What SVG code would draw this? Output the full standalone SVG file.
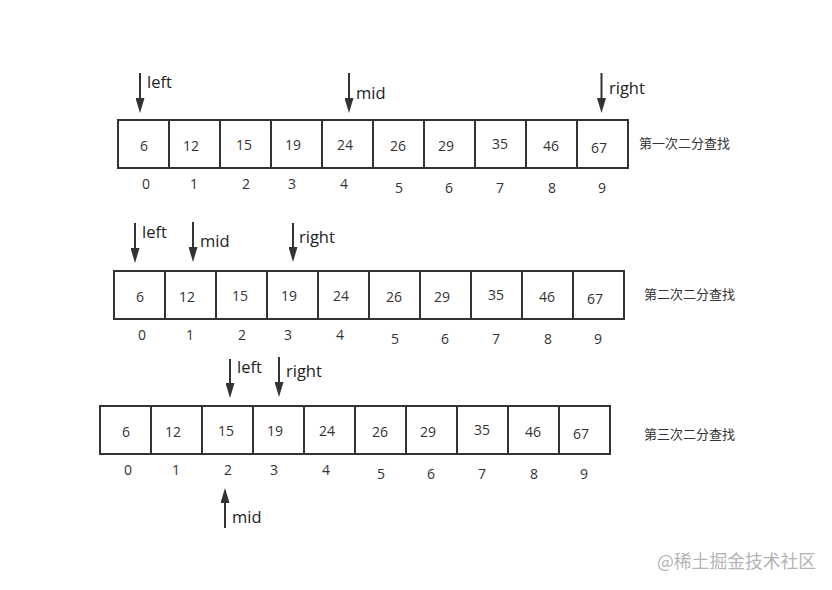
<svg xmlns="http://www.w3.org/2000/svg" width="832" height="590" viewBox="0 0 832 590">
<style>
.cell rect{fill:#fff;stroke:#333;stroke-width:2}
.cell text,.idx{font-family:"Open Sans","Noto Sans",sans-serif;font-size:14px;fill:#333;text-anchor:middle}
.lbl{font-family:"Open Sans","Noto Sans",sans-serif;font-size:16.5px;fill:#222}
.cap{font-family:"Noto Sans CJK SC","Noto Sans",sans-serif;font-size:13px;fill:#333}
.arr{stroke:#333;stroke-width:2;fill:none;marker-end:url(#ah)}
.wm{font-family:"Noto Sans CJK SC","Noto Sans",sans-serif;font-size:17.8px;fill:#b4b4b4}
</style>
<defs>
<marker id="ah" viewBox="0 0 15 9" refX="5" refY="4.5" markerWidth="15" markerHeight="9" markerUnits="userSpaceOnUse" orient="auto">
<path d="M0,0 L15,4.5 L0,9 Z" fill="#333"/>
</marker>
</defs>
<rect width="832" height="590" fill="#fff"/>

<g id="row1">
<g id="r1c0" class="cell"><rect x="118" y="120" width="51" height="48"/><text x="144" y="151">6</text></g>
<g id="r1c1" class="cell"><rect x="169" y="120" width="51" height="48"/><text x="191" y="151">12</text></g>
<g id="r1c2" class="cell"><rect x="220" y="120" width="51" height="48"/><text x="244" y="150">15</text></g>
<g id="r1c3" class="cell"><rect x="271" y="120" width="51" height="48"/><text x="293" y="150">19</text></g>
<g id="r1c4" class="cell"><rect x="322" y="120" width="51" height="48"/><text x="345" y="150">24</text></g>
<g id="r1c5" class="cell"><rect x="373" y="120" width="51" height="48"/><text x="398" y="151">26</text></g>
<g id="r1c6" class="cell"><rect x="424" y="120" width="51" height="48"/><text x="446" y="151">29</text></g>
<g id="r1c7" class="cell"><rect x="475" y="120" width="51" height="48"/><text x="500" y="149">35</text></g>
<g id="r1c8" class="cell"><rect x="526" y="120" width="51" height="48"/><text x="551" y="151">46</text></g>
<g id="r1c9" class="cell"><rect x="577" y="120" width="51" height="48"/><text x="599" y="153">67</text></g>
<g id="r1idx">
<text class="idx" x="146" y="189">0</text><text class="idx" x="194" y="189">1</text><text class="idx" x="246" y="189">2</text><text class="idx" x="292" y="189">3</text><text class="idx" x="344" y="189">4</text><text class="idx" x="399" y="193">5</text><text class="idx" x="449" y="193">6</text><text class="idx" x="500" y="193">7</text><text class="idx" x="552" y="193">8</text><text class="idx" x="602" y="193">9</text>
</g>
</g>

<g id="row2" transform="translate(-4,151)">
<g id="r2c0" class="cell"><rect x="118" y="120" width="51" height="48"/><text x="144" y="151">6</text></g>
<g id="r2c1" class="cell"><rect x="169" y="120" width="51" height="48"/><text x="191" y="151">12</text></g>
<g id="r2c2" class="cell"><rect x="220" y="120" width="51" height="48"/><text x="244" y="150">15</text></g>
<g id="r2c3" class="cell"><rect x="271" y="120" width="51" height="48"/><text x="293" y="150">19</text></g>
<g id="r2c4" class="cell"><rect x="322" y="120" width="51" height="48"/><text x="345" y="150">24</text></g>
<g id="r2c5" class="cell"><rect x="373" y="120" width="51" height="48"/><text x="398" y="151">26</text></g>
<g id="r2c6" class="cell"><rect x="424" y="120" width="51" height="48"/><text x="446" y="151">29</text></g>
<g id="r2c7" class="cell"><rect x="475" y="120" width="51" height="48"/><text x="500" y="149">35</text></g>
<g id="r2c8" class="cell"><rect x="526" y="120" width="51" height="48"/><text x="551" y="151">46</text></g>
<g id="r2c9" class="cell"><rect x="577" y="120" width="51" height="48"/><text x="599" y="153">67</text></g>
<g id="r2idx">
<text class="idx" x="146" y="189">0</text><text class="idx" x="194" y="189">1</text><text class="idx" x="246" y="189">2</text><text class="idx" x="292" y="189">3</text><text class="idx" x="344" y="189">4</text><text class="idx" x="399" y="193">5</text><text class="idx" x="449" y="193">6</text><text class="idx" x="500" y="193">7</text><text class="idx" x="552" y="193">8</text><text class="idx" x="602" y="193">9</text>
</g>
</g>

<g id="row3" transform="translate(-18,286)">
<g id="r3c0" class="cell"><rect x="118" y="120" width="51" height="48"/><text x="144" y="151">6</text></g>
<g id="r3c1" class="cell"><rect x="169" y="120" width="51" height="48"/><text x="191" y="151">12</text></g>
<g id="r3c2" class="cell"><rect x="220" y="120" width="51" height="48"/><text x="244" y="150">15</text></g>
<g id="r3c3" class="cell"><rect x="271" y="120" width="51" height="48"/><text x="293" y="150">19</text></g>
<g id="r3c4" class="cell"><rect x="322" y="120" width="51" height="48"/><text x="345" y="150">24</text></g>
<g id="r3c5" class="cell"><rect x="373" y="120" width="51" height="48"/><text x="398" y="151">26</text></g>
<g id="r3c6" class="cell"><rect x="424" y="120" width="51" height="48"/><text x="446" y="151">29</text></g>
<g id="r3c7" class="cell"><rect x="475" y="120" width="51" height="48"/><text x="500" y="149">35</text></g>
<g id="r3c8" class="cell"><rect x="526" y="120" width="51" height="48"/><text x="551" y="151">46</text></g>
<g id="r3c9" class="cell"><rect x="577" y="120" width="51" height="48"/><text x="599" y="153">67</text></g>
<g id="r3idx">
<text class="idx" x="146" y="189">0</text><text class="idx" x="194" y="189">1</text><text class="idx" x="246" y="189">2</text><text class="idx" x="292" y="189">3</text><text class="idx" x="344" y="189">4</text><text class="idx" x="399" y="193">5</text><text class="idx" x="449" y="193">6</text><text class="idx" x="500" y="193">7</text><text class="idx" x="552" y="193">8</text><text class="idx" x="602" y="193">9</text>
</g>
</g>

<g id="captions">
<text class="cap" x="639" y="148">第一次二分查找</text>
<text class="cap" x="644" y="299">第二次二分查找</text>
<text class="cap" x="644" y="439">第三次二分查找</text>
</g>

<g id="connectors">
<line class="arr" x1="140" y1="73" x2="140" y2="103"/>
<line class="arr" x1="349" y1="73" x2="349" y2="103"/>
<line class="arr" x1="601.5" y1="73" x2="601.5" y2="103"/>
<line class="arr" x1="135" y1="223" x2="135" y2="253"/>
<line class="arr" x1="193" y1="222" x2="193" y2="252"/>
<line class="arr" x1="293" y1="223" x2="293" y2="252"/>
<line class="arr" x1="230" y1="359" x2="230" y2="388"/>
<line class="arr" x1="279" y1="357" x2="279" y2="387"/>
<line class="arr" x1="225" y1="528" x2="225" y2="498"/>
</g>

<g id="labels">
<text class="lbl" x="147" y="88">left</text>
<text class="lbl" x="356" y="99">mid</text>
<text class="lbl" x="609" y="94">right</text>
<text class="lbl" x="142" y="238">left</text>
<text class="lbl" x="200" y="247">mid</text>
<text class="lbl" x="299" y="243">right</text>
<text class="lbl" x="237" y="373">left</text>
<text class="lbl" x="286" y="377">right</text>
<text class="lbl" x="232" y="523">mid</text>
</g>

<text class="wm" x="657" y="568">@稀土掘金技术社区</text>
</svg>
